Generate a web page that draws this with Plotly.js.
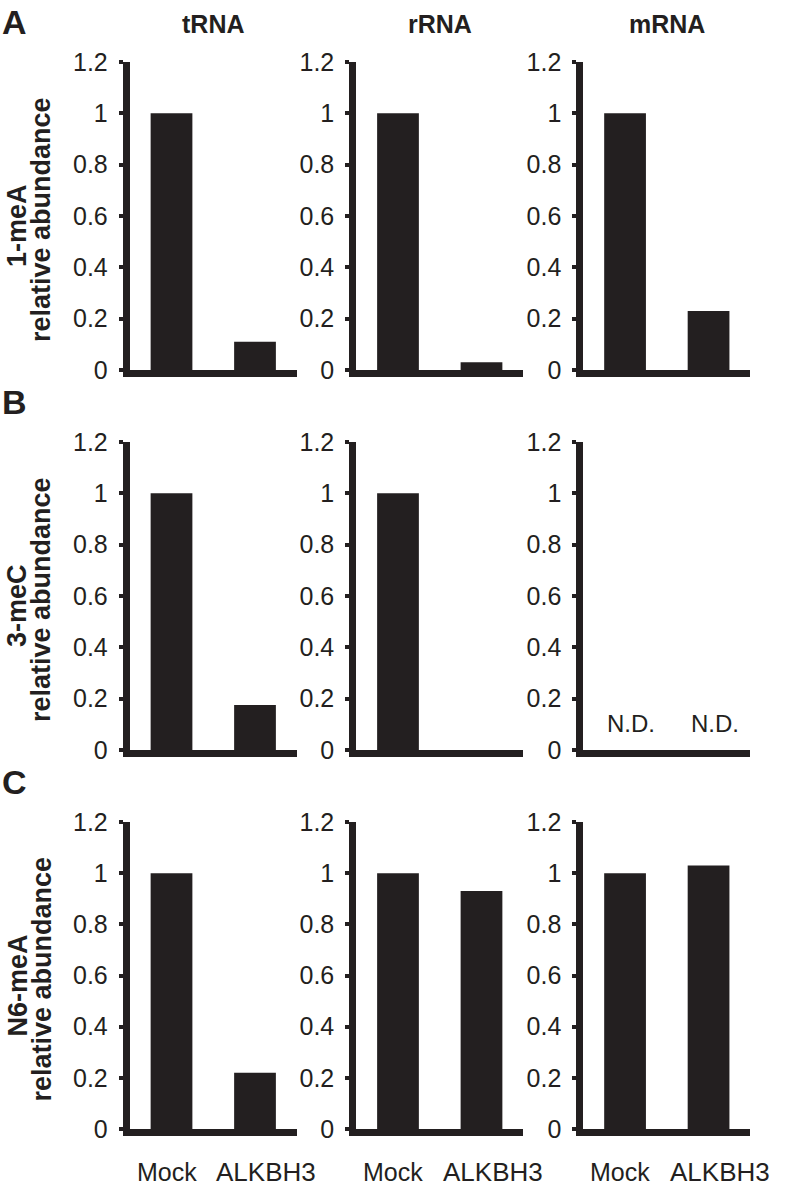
<!DOCTYPE html>
<html>
<head>
<meta charset="utf-8">
<script src="https://cdn.plot.ly/plotly-3.0.1.min.js"></script>
<style>html,body{margin:0;padding:0;background:#fff;}#chart{width:787px;height:1191px;}</style>
</head>
<body>
<div id="chart"></div>
<script>
// ---- data ----
const conditions = ['Mock', 'ALKBH3'];
const rnaTypes = ['tRNA', 'rRNA', 'mRNA'];
const modifications = ['1-meA', '3-meC', 'N6-meA'];
const panelLetters = ['A', 'B', 'C'];
// values per RNA type: [Mock, ALKBH3]
const meA1_tRNA = [1, 0.11];
const meA1_rRNA = [1, 0.03];
const meA1_mRNA = [1, 0.23];
const meC3_tRNA = [1, 0.175];
const meC3_rRNA = [1, 0];
const meC3_mRNA = [null, null]; // N.D.
const n6meA_tRNA = [1, 0.22];
const n6meA_rRNA = [1, 0.93];
const n6meA_mRNA = [1, 1.03];
const yTickVals = [0, 0.2, 0.4, 0.6, 0.8, 1, 1.2];
const yTickText = ['0', '0.2', '0.4', '0.6', '0.8', '1', '1.2'];
const ndLabel = 'N.D.';

const values = [
  [meA1_tRNA, meA1_rRNA, meA1_mRNA],
  [meC3_tRNA, meC3_rRNA, meC3_mRNA],
  [n6meA_tRNA, n6meA_rRNA, n6meA_mRNA]
];

// ---- layout geometry ----
const W = 787, H = 1191;
const ink = '#231f20';
const font = 'Arial, "Liberation Sans", Helvetica, sans-serif';
const colPx = [[129.75, 296.75], [356.25, 523.25], [583.3, 750.3]];
const rowPx = [[62, 370], [442, 750], [822, 1129]];

const traces = [];
const layout = {
  width: W, height: H,
  margin: {l: 0, r: 0, t: 0, b: 0},
  paper_bgcolor: '#fff', plot_bgcolor: 'rgba(0,0,0,0)',
  showlegend: false,
  bargap: 0.5,
  font: {family: font, color: ink},
  annotations: []
};

for (let r = 0; r < 3; r++) {
  for (let c = 0; c < 3; c++) {
    const k = r * 3 + c + 1;
    const xs = k === 1 ? '' : String(k);
    traces.push({
      type: 'bar', x: conditions, y: values[r][c],
      xaxis: 'x' + xs, yaxis: 'y' + xs,
      marker: {color: ink, line: {width: 0}},
      hoverinfo: 'skip'
    });
    layout['xaxis' + xs] = {
      domain: [colPx[c][0] / W, colPx[c][1] / W],
      anchor: 'y' + xs,
      type: 'category', range: [-0.5, 1.5],
      showline: true, linewidth: 7, linecolor: ink,
      ticks: '', showticklabels: false, showgrid: false, zeroline: false,
      fixedrange: true
    };
    layout['yaxis' + xs] = {
      domain: [1 - rowPx[r][1] / H, 1 - rowPx[r][0] / H],
      anchor: 'x' + xs,
      range: [0, 1.2],
      tickmode: 'array', tickvals: yTickVals, ticktext: yTickText,
      showline: true, linewidth: 7, linecolor: ink,
      ticks: 'outside', ticklen: 4, tickwidth: 4, tickcolor: ink,
      ticklabelstandoff: 6,
      tickfont: {family: font, size: 25, color: ink},
      showgrid: false, zeroline: false, fixedrange: true
    };
    if (r === 2) {
      layout.annotations.push(
        {xref: 'x' + xs, yref: 'paper', x: conditions[0], y: 1 - 1172 / H,
         xanchor: 'center', yanchor: 'middle',
         text: conditions[0], showarrow: false, xshift: -5,
         font: {family: font, size: 25, color: ink}},
        {xref: 'x' + xs, yref: 'paper', x: conditions[1], y: 1 - 1172 / H,
         xanchor: 'center', yanchor: 'middle',
         text: conditions[1], showarrow: false, xshift: 11,
         font: {family: font, size: 26, color: ink}}
      );
    }
    if (values[r][c][0] === null) {
      conditions.forEach(cond => layout.annotations.push({
        xref: 'x' + xs, yref: 'y' + xs, x: cond, y: 0,
        xanchor: 'center', yanchor: 'bottom',
        yshift: 11, xshift: 6,
        text: ndLabel, showarrow: false,
        font: {family: font, size: 24, color: ink}
      }));
    }
  }
}

// column titles
rnaTypes.forEach((t, c) => layout.annotations.push({
  xref: 'paper', yref: 'paper', x: (colPx[c][0] + colPx[c][1]) / 2 / W, y: 1 - 24 / H,
  xanchor: 'center', yanchor: 'middle',
  text: '<b>' + t + '</b>', showarrow: false,
  font: {family: font, size: 25, color: ink}
}));

// panel letters and y titles
panelLetters.forEach((L, r) => {
  layout.annotations.push({
    xref: 'paper', yref: 'paper', x: 0, y: 1 - (rowPx[r][0] - 40) / H,
    xanchor: 'left', yanchor: 'middle',
    text: '<b>' + L + '</b>', showarrow: false,
    font: {family: font, size: 34, color: ink}
  });
  const mid = (rowPx[r][0] + rowPx[r][1]) / 2;
  layout.annotations.push({
    xref: 'paper', yref: 'paper', x: 17 / W, y: 1 - (mid + 10) / H, textangle: -90,
    xanchor: 'center', yanchor: 'middle',
    text: '<b>' + modifications[r] + '</b>', showarrow: false,
    font: {family: font, size: 27, color: ink}
  });
  layout.annotations.push({
    xref: 'paper', yref: 'paper', x: 41 / W, y: 1 - (mid + 4) / H,
    textangle: -90, xanchor: 'center', yanchor: 'middle',
    text: '<b>relative abundance</b>', showarrow: false,
    font: {family: font, size: 27, color: ink}
  });
});

Plotly.newPlot('chart', traces, layout, {staticPlot: true, displayModeBar: false});
</script>
</body>
</html>
